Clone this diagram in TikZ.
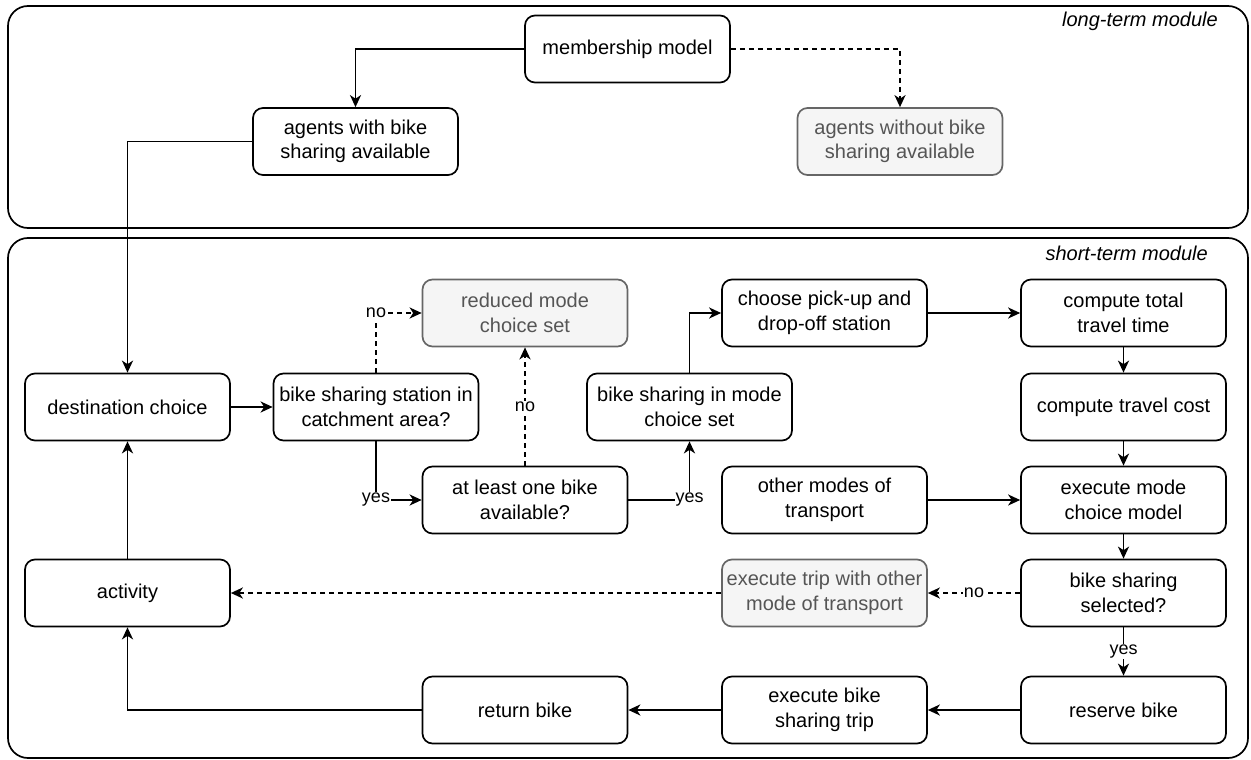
\documentclass[tikz,border=0pt]{standalone}
\usepackage{fontspec}
\setmainfont{Liberation Sans}
\usetikzlibrary{arrows.meta}
\definecolor{grayfill}{HTML}{F5F5F5}
\definecolor{graydraw}{HTML}{666666}
\definecolor{graytext}{HTML}{555555}
\begin{document}
\begin{tikzpicture}[x=1pt,y=-1pt,
 box/.style={draw, line width=1.7pt, rounded corners=10pt, minimum width=205pt, minimum height=67pt, align=center, inner sep=0pt, font=\fontsize{20}{24.5}\selectfont},
 graybox/.style={box, fill=grayfill, draw=graydraw, text=graytext},
 module/.style={draw, line width=1.7pt, rounded corners=20pt},
 modlbl/.style={anchor=east, inner sep=0pt, font=\fontsize{20}{24}\selectfont\itshape},
 arr/.style={line width=1.8pt, -{Stealth[length=12pt,width=11pt,inset=3.5pt]}},
 darr/.style={arr, dash pattern=on 5pt off 4pt},
 lbl/.style={fill=white, inner sep=1pt, font=\fontsize{18}{21}\selectfont},
 ]
\useasboundingbox[fill=white] (0,0) rectangle (1251,760);
\draw[module] (8,6) rectangle (1248,228);
\draw[module] (8,238) rectangle (1248,758);
\node[modlbl] (lt) at (1218,21) {long-term module};
\node[modlbl] (st) at (1208,253) {short-term module};

\node[box] (mem) at (627.5,49) {membership model};
\node[box] (agw) at (355.5,141.5) {agents with bike\\sharing available};
\node[graybox] (ago) at (900,141.5) {agents without bike\\sharing available};

\node[box] (dest) at (127.5,407) {destination choice};
\node[box] (stat) at (376,407) {bike sharing station in\\catchment area?};
\node[graybox] (red) at (525,313) {reduced mode\\choice set};
\node[box] (one) at (525,500) {at least one bike\\available?};
\node[box] (bsm) at (689.5,407) {bike sharing in mode\\choice set};
\node[box] (pick) at (824.5,313) {choose pick-up and\\drop-off station};
\node[box] (tot) at (1123.5,313) {compute total\\travel time};
\node[box] (cost) at (1123.5,407) {compute travel cost};
\node[box] (other) at (824.5,500) {other modes of\\transport};
\node[box] (exe) at (1123.5,500) {execute mode\\choice model};
\node[box] (sel) at (1123.5,593) {bike sharing\\selected?};
\node[graybox] (trip) at (824.5,593) {execute trip with other\\mode of transport};
\node[box] (act) at (127.5,593) {activity};
\node[box] (res) at (1123.5,710) {reserve bike};
\node[box] (ebt) at (824.5,710) {execute bike\\sharing trip};
\node[box] (ret) at (525,710) {return bike};

\draw[arr] (mem.west) -| (agw.north);
\draw[darr] (mem.east) -| (ago.north);
\draw[arr] (agw.west) -| (dest.north);
\draw[arr] (dest) -- (stat);
\draw[darr] (stat.north) |- node[lbl,pos=0.5] (l1) {no} (red.west);
\draw[arr] (stat.south) |- node[lbl,pos=0.5] (l2) {yes} (one.west);
\draw[darr] (one.north) -- node[lbl] (l3) {no} (red.south);
\draw[arr] (one.east) -| node[lbl,pos=0.5] (l4) {yes} (bsm.south);
\draw[arr] (bsm.north) |- (pick.west);
\draw[arr] (pick) -- (tot);
\draw[arr] (tot) -- (cost);
\draw[arr] (cost) -- (exe);
\draw[arr] (other) -- (exe);
\draw[arr] (exe) -- (sel);
\draw[darr] (sel) -- node[lbl] (l5) {no} (trip);
\draw[darr] (trip) -- (act);
\draw[arr] (sel) -- node[lbl] (l6) {yes} (res);
\draw[arr] (res) -- (ebt);
\draw[arr] (ebt) -- (ret);
\draw[arr] (ret.west) -| (act.south);
\draw[arr] (act) -- (dest);
\end{tikzpicture}
\end{document}
